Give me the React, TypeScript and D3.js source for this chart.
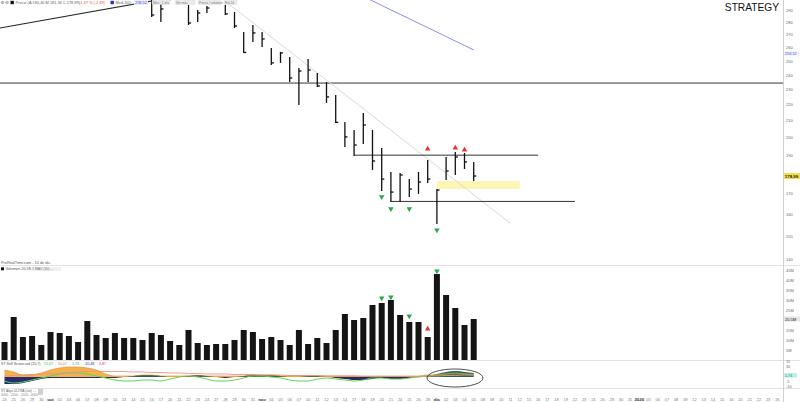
import React from 'react';
import * as d3 from 'd3';

const W = 800;
const H = 402;
const PLOT_RIGHT = 783;

// one label per session slot (traded sessions + projected ones)
const dayLabels = [
  '24', '25', '26', '29', '30',
  'oct', '02', '03', '06', '07', '08', '09', '10', '13', '14', '15', '16', '17', '20', '21', '22', '23', '24', '27', '28', '29', '30', '31',
  'nov', '04', '05', '06', '07', '10', '11', '12', '13', '14', '17', '18', '19', '20', '21', '24', '25', '26', '28',
  'dic', '02', '03', '04', '05', '08', '09', '10', '11', '12', '15', '16', '17', '18', '19', '22', '23', '24', '26', '29', '30', '31',
  '2026', '05', '06', '07', '08', '09', '12', '13', '14', '15', '16', '20', '21', '22', '23', '26',
];
const monthLabels = ['oct', 'nov', 'dic', '2026'];

// daily HLC
const high = [338, 336, 333, 342, 340, 350, 356, 355, 362, 360, 351, 340, 338, 334, 328, 318,
  304, 296.4, 312, 308, 294.7, 290.4, 293.8, 305, 294.7, 288.7, 272.4, 278.0, 272.4, 260.0,
  257.0, 253.2, 245.2, 251.8, 241.7, 235.4, 226.7, 209.5, 204.7, 215.1, 204.7, 194.2, 181.1,
  180.6, 177.4, 181.1, 187.5, 172.3, 189.2, 192.0, 191.4, 186.5];
const low = [328, 322, 318, 329, 326, 332, 342, 340, 346, 343, 333, 326, 318, 316, 306, 301,
  284.6, 280.4, 298.8, 298.5, 278.0, 280.4, 287.9, 298.5, 286.2, 275.6, 256.2, 264.6, 260.7, 247.4,
  248.9, 235.4, 220.2, 235.4, 232.0, 221.5, 208.9, 194.8, 189.7, 196.5, 182.2, 171.3, 165.9,
  165.9, 168.4, 169.9, 175.4, 155.6, 176.9, 179.5, 182.7, 176.4];
const close = [333, 325, 330, 338, 331, 346, 352, 344, 358, 347, 336, 330, 324, 320, 312, 306,
  286.2, 291.3, 301, 300, 279.6, 287.9, 292.1, 300, 287.1, 277.2, 256.6, 271.6, 266.9, 248.9,
  256.2, 238.2, 243.1, 243.8, 232.7, 225.4, 209.3, 200.6, 195.9, 207.7, 187.0, 177.4, 170.8,
  179.5, 172.3, 175.9, 177.4, 171.8, 181.6, 189.2, 186.5, 178.99];

// volume, millions
const volume = [9, 21.5, 11.5, 12, 7.5, 14, 13.5, 12, 9, 19.5, 12.5, 11, 13.5, 11, 11, 10, 13.5,
  12.5, 9.5, 7.5, 15, 8.5, 7.5, 8, 8, 10, 15, 14, 10.5, 11.5, 10, 7.5, 15, 8, 11, 8.5, 15, 23,
  20, 21, 27.5, 28.5, 30, 22.5, 19, 19, 11.5, 43, 32.5, 26, 17.5, 20.5];

// 200-session moving average (visible tail)
const maStart = 38;
const ma200 = [306.0, 302.1, 298.2, 294.3, 290.5, 286.8, 283.1, 279.4, 275.8, 272.3, 268.8, 265.3, 261.9, 258.5];

// signals
const sellIdx = [46, 49, 50];
const sellLevel = [193.7, 194.3, 193.1];
const buyIdx = [41, 42, 44, 47];
const buyLevel = [168.4, 162.6, 162.6, 152.9];
const volBuyLevel = [31, 31.5, 22, 44.5];
const volSellLevel = [15.5];

// drawn levels
const hLine = 234.7;
const resistance = { from: 38, to: 58, price: 190.2 };
const support = { from: 42, to: 62, price: 166.2 };
const zone = { from: 47, to: 56, top: 176.4, bottom: 172.3 };
const downTrend = [{ i: 24, p: 297.9 }, { i: 55, p: 155.9 }];
const upTrend = [{ i: -0.5, p: 275.6 }, { i: 20, p: 303.9 }];

// oscillator panel series
const oscOrange = [7, 5, 2, 2, 4, 7, 9, 10, 10, 9, 7, 3, 1, 1, 1, 2, 2, 1, 1, 1, 1, 1, 1, 1, 1, 1,
  1, 2, 2, 2, 1, 1, 1, 1, 1, 1, 1, 1, 1, 1, 1, 1, 1, 1, 1, 1, 2, 2, 3, 3, 3, 3];
const oscSpread = [-7, -7, -6, -4, -2, -1, -1, -1, -1, -1, -1, -1, -1, 0, 1, 2, 2, 1, 0, 0, 1, 2,
  1, 0, -1, 0, 1, 2, 2, 2, 1, 0, 0, 1, 1, 0, -1, -2, -3, -3, -2, -1, -2, -2, -1, 0, 1, 3, 5, 6, 5, 4];
const oscGreen = [-4, -6, -5, -3, -1, 1, 3, 4, 4, 3, 1, -1, -3, -4, -4, -3, -3, -4, -2, 0, 1, 0,
  -2, -4, -4, -3, -1, 1, 1, 0, -1, -3, -4, -4, -2, -1, -2, -3, -4, -3, -1, -1, -2, -2, -1, 0, 1, 2, 3, 4, 3, 2];
const oscPink = [1, 1.5, 2, 2.5, 3, 3.5, 4, 4.5, 5, 5.5, 5.5, 5.5, 5.5, 5.5, 5, 5, 4.5, 4.5, 4, 4,
  3.5, 3.5, 3, 3, 3, 2.5, 2.5, 2.5, 2, 2, 2, 1.5, 1.5, 1.5, 1.5, 1, 1, 1, 1, 0.5, 0.5, 0.5, 0.5,
  0.5, 0.5, 0.5, 1, 1, 1.5, 1.5, 2, 2];

const priceTicks = [140, 150, 160, 170, 190, 200, 210, 220, 230, 240, 250, 260, 270, 280, 290];
const volTicks = [5, 10, 15, 25, 30, 35, 40, 45];
const oscTicks = [-10, -5, 10, 15];

const toolbar = ['Mes · 1 día', 'Ver más', 'Precio / volumen', 'Rsi 14'];

const FONT = 'Liberation Sans, Arial, sans-serif';

export default function App() {
  const x = d3.scaleLinear().domain([0, 84]).range([4.5, 4.5 + 84 * 9.2]);
  const y = d3.scaleLog().domain([139.3, 299]).range([262, 0]);
  const yv = d3.scaleLinear().domain([0, 50]).range([360, 260]);
  const yo = d3.scaleLinear().domain([-11, 17]).range([388, 360]);

  const idx = d3.range(close.length);
  const tick = 2.6;

  const areaOrange = d3.area<number>().x((d, i) => x(i)).y0(yo(0)).y1((d) => yo(d)).curve(d3.curveMonotoneX);
  const areaPos = d3.area<number>().x((d, i) => x(i)).y0(yo(0)).y1((d) => yo(Math.max(0, d))).curve(d3.curveMonotoneX);
  const areaNeg = d3.area<number>().x((d, i) => x(i)).y0(yo(0)).y1((d) => yo(Math.min(0, d))).curve(d3.curveMonotoneX);
  const lineOsc = d3.line<number>().x((d, i) => x(i)).y((d) => yo(d)).curve(d3.curveMonotoneX);
  const lineMa = d3.line<number>().x((d, i) => x(maStart + i)).y((d) => y(d));

  const tri = d3.symbol(d3.symbolTriangle, 13)() as string;

  const toolbarX = [152, 175, 198, 224];
  const toolbarW = [18, 20, 23, 13];

  const maY = y(ma200[ma200.length - 1]) + 3.5;

  return (
    <svg width={W} height={H} style={{ position: 'fixed', left: 0, top: 0, background: '#fff' }} fontFamily={FONT}>
      <defs>
        <clipPath id="pricePane"><rect x={0} y={0} width={PLOT_RIGHT} height={263} /></clipPath>
      </defs>
      <rect width={W} height={H} fill="#fff" />

      {/* pane separators and right axis rule */}
      <line x1={0} x2={W} y1={265.5} y2={265.5} stroke="#e2e2e2" strokeWidth={1} />
      <line x1={0} x2={W} y1={360.5} y2={360.5} stroke="#e2e2e2" strokeWidth={1} />
      <line x1={0} x2={W} y1={388.5} y2={388.5} stroke="#e2e2e2" strokeWidth={1} />
      <line x1={PLOT_RIGHT + 0.5} x2={PLOT_RIGHT + 0.5} y1={0} y2={H} stroke="#d0d0d0" strokeWidth={1} />

      {/* price pane */}
      <g clipPath="url(#pricePane)">
        <line x1={0} x2={PLOT_RIGHT} y1={y(hLine)} y2={y(hLine)} stroke="#333" strokeWidth={1} />
        <rect x={x(zone.from)} width={x(zone.to) - x(zone.from)} y={y(zone.top)} height={y(zone.bottom) - y(zone.top)} fill="#fdf5b4" />
        <line x1={x(downTrend[0].i)} y1={y(downTrend[0].p)} x2={x(downTrend[1].i)} y2={y(downTrend[1].p)} stroke="#dadada" strokeWidth={1} />
        <line x1={x(upTrend[0].i)} y1={y(upTrend[0].p)} x2={x(upTrend[1].i)} y2={y(upTrend[1].p)} stroke="#222" strokeWidth={1.1} />
        <path d={lineMa(ma200) || ''} fill="none" stroke="#8a8cf0" strokeWidth={1} />
        <line x1={x(resistance.from)} x2={x(resistance.to)} y1={y(resistance.price)} y2={y(resistance.price)} stroke="#333" strokeWidth={1} />
        <line x1={x(support.from)} x2={x(support.to)} y1={y(support.price)} y2={y(support.price)} stroke="#333" strokeWidth={1} />
        {idx.map((i) => (
          <g key={i} stroke="#111" strokeWidth={1.3}>
            <line x1={x(i)} x2={x(i)} y1={y(high[i])} y2={y(low[i])} />
            <line x1={x(i)} x2={x(i) + tick} y1={y(close[i])} y2={y(close[i])} />
          </g>
        ))}
        {sellIdx.map((i, k) => (
          <path key={'s' + i} d={tri} transform={`translate(${x(i)},${y(sellLevel[k])})`} fill="#e8322b" />
        ))}
        {buyIdx.map((i, k) => (
          <path key={'b' + i} d={tri} transform={`translate(${x(i)},${y(buyLevel[k])}) rotate(180)`} fill="#2aa845" />
        ))}
      </g>

      {/* top legend */}
      <circle cx={2.5} cy={2.5} r={1.8} fill="#bbb" />
      <circle cx={7} cy={2.5} r={1.8} fill="#bbb" />
      <rect x={10.5} y={0.8} width={3.4} height={3.4} fill="#111" />
      <text x={15.5} y={4.3} fontSize={3.9} fill="#666">Precio (A:180,46 M:181,34 C:178,99)</text>
      <text x={79} y={4.3} fontSize={3.9} fill="#e05050">-1,37 % (-2,49)</text>
      <rect x={110.5} y={0.8} width={3.4} height={3.4} fill="#2a2ad0" />
      <text x={115.5} y={4.3} fontSize={3.9} fill="#666">Med 200</text>
      <rect x={134} y={0.3} width={14} height={4.6} fill="#eef" />
      <text x={135} y={4.3} fontSize={3.9} fill="#3a3ad8">258,52</text>
      {toolbar.map((t, k) => (
        <g key={t}>
          <rect x={toolbarX[k]} y={0} width={toolbarW[k]} height={4.5} rx={1} fill="#ececec" stroke="#d8d8d8" strokeWidth={0.4} />
          <text x={toolbarX[k] + 1} y={3.5} fontSize={3.2} fill="#777">{t}</text>
        </g>
      ))}
      <text x={779} y={10.5} fontSize={10.2} textAnchor="end" fill="#111">STRATEGY</text>

      {/* price axis */}
      {priceTicks.map((p) => (
        <text key={p} x={786} y={y(p) + 1.2} fontSize={4} fill="#666">{p}</text>
      ))}
      <rect x={784} y={maY - 2.3} width={15} height={4.6} fill="#f1f1ff" />
      <text x={785} y={maY + 1.3} fontSize={3.8} fill="#4a4ae0">258,52</text>
      <rect x={784} y={y(close[close.length - 1]) - 3} width={16} height={6} fill="#f4e04d" />
      <text x={784.8} y={y(close[close.length - 1]) + 1.6} fontSize={4.4} fill="#222" fontWeight="bold">178,99</text>

      {/* volume pane */}
      <text x={1} y={264} fontSize={3.8} fill="#555">ProRealTime.com - 10 de dic.</text>
      <rect x={1} y={267.3} width={3} height={3} fill="#111" />
      <text x={5.5} y={270.2} fontSize={3.8} fill="#555">Volumen 20,5M</text>
      <rect x={31} y={267} width={30} height={4} fill="#f0f0f0" />
      <text x={32} y={270.2} fontSize={3.5} fill="#777">1  MAV (30)  ...</text>
      {idx.map((i) => (
        <rect key={i} x={x(i) - 3} width={6} y={yv(volume[i])} height={yv(0) - yv(volume[i])} fill="#141414" />
      ))}
      {buyIdx.map((i, k) => (
        <path key={'vb' + i} d={tri} transform={`translate(${x(i)},${yv(volBuyLevel[k])}) rotate(180)`} fill="#2aa845" />
      ))}
      <path d={tri} transform={`translate(${x(46)},${yv(volSellLevel[0])})`} fill="#e8322b" />
      {volTicks.map((v) => (
        <text key={v} x={786} y={yv(v) + 1.5} fontSize={4} fill="#666">{v}M</text>
      ))}
      <rect x={784} y={yv(volume[51]) - 2.6} width={16} height={5.2} fill="#e6e6e6" />
      <text x={785} y={yv(volume[51]) + 1.5} fontSize={4} fill="#222">20,5M</text>

      {/* oscillator pane */}
      <path d={areaOrange(oscOrange) || ''} fill="#f4b24a" />
      <path d={areaNeg(oscSpread) || ''} fill="#262a6e" />
      <path d={areaPos(oscSpread) || ''} fill="#2f5d55" />
      <path d={lineOsc(oscGreen) || ''} fill="none" stroke="#5ad65a" strokeWidth={1} />
      <path d={lineOsc(oscPink) || ''} fill="none" stroke="#f19090" strokeWidth={0.9} />
      <path d={lineOsc(oscOrange) || ''} fill="none" stroke="#e58a20" strokeWidth={0.6} />
      <ellipse cx={455} cy={378} rx={28} ry={9} fill="none" stroke="#222" strokeWidth={0.8} />
      <text x={1} y={364.6} fontSize={3.6} fill="#555">ST Self Scorecard (20,7)</text>
      <text x={44} y={364.6} fontSize={3.6} fill="#3cbf3c">55,67</text>
      <text x={58} y={364.6} fontSize={3.6} fill="#e07070">50,07</text>
      <text x={72} y={364.6} fontSize={3.6} fill="#20a0a0">1,73</text>
      <text x={84} y={364.6} fontSize={3.6} fill="#2a2a80">-10,48</text>
      <text x={99} y={364.6} fontSize={3.6} fill="#e04040">4,87</text>
      {oscTicks.map((v) => (
        <text key={v} x={786} y={yo(v) + 1.4} fontSize={3.8} fill="#666">{v}</text>
      ))}
      <rect x={784} y={yo(1.73) - 2.3} width={13} height={4.6} fill="#bff0ea" />
      <text x={785} y={yo(1.73) + 1.3} fontSize={3.6} fill="#208080">1,73</text>

      <text x={1} y={392.4} fontSize={3.4} fill="#666">ST Algo ULTRA (sin) ...</text>
      <text x={1} y={396} fontSize={3.2} fill="#888">0000 - 2000 - 2000 - 0000</text>
      <rect x={38} y={388.8} width={5} height={6} fill="#cfcfcf" />

      {/* date axis */}
      {dayLabels.map((d, i) => (
        <text
          key={i}
          x={x(i)}
          y={400.5}
          fontSize={monthLabels.includes(d) ? 4.4 : 3.9}
          fontWeight={monthLabels.includes(d) ? 'bold' : 'normal'}
          textAnchor="middle"
          fill={monthLabels.includes(d) ? '#333' : '#777'}
        >
          {d}
        </text>
      ))}
    </svg>
  );
}
